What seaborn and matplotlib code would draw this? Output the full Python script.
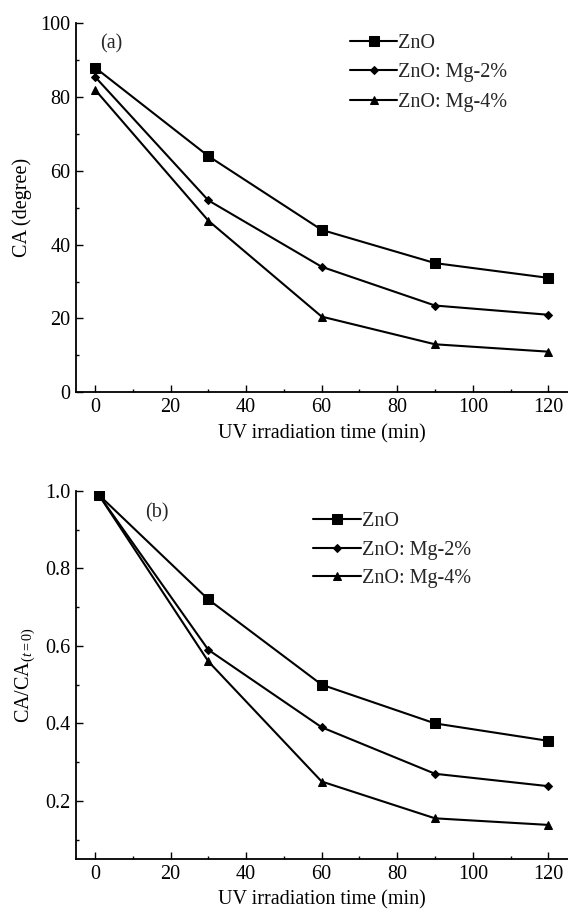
import numpy as np
import pandas as pd
import matplotlib
matplotlib.use("Agg")
import matplotlib.pyplot as plt
import seaborn as sns
from matplotlib.ticker import MultipleLocator

sns.set_theme(style="white")
plt.rcParams['font.family'] = ['Liberation Serif', 'DejaVu Serif']
plt.rcParams['mathtext.fontset'] = 'custom'
plt.rcParams['mathtext.rm'] = 'Liberation Serif'
plt.rcParams['mathtext.it'] = 'Liberation Serif:italic'

series = ["ZnO", "ZnO: Mg-2%", "ZnO: Mg-4%"]
markers = ["s", "D", "^"]
msizes = [6.5, 4.5, 5.5]

time_a = [0, 30, 60, 90, 120]
ca_zno = [88, 64, 44, 35, 31]
ca_mg2 = [85.5, 52, 34, 23.5, 21]
ca_mg4 = [82, 46.5, 20.5, 13, 11]

time_b = [1, 30, 60, 90, 120]
r_zno = [0.99, 0.72, 0.50, 0.40, 0.355]
r_mg2 = [0.99, 0.59, 0.39, 0.27, 0.238]
r_mg4 = [0.99, 0.56, 0.25, 0.155, 0.138]

fig = plt.figure(figsize=(5.68, 9.15), dpi=100)
ax1 = fig.add_axes([0.134, 0.5713, 0.866, 0.4033])
ax2 = fig.add_axes([0.134, 0.0612, 0.866, 0.4022])

fs = 14.5

def draw(ax, x, ys):
    for name, y, m, ms in zip(series, ys, markers, msizes):
        df = pd.DataFrame({"t": x, "v": y})
        sns.lineplot(data=df, x="t", y="v", ax=ax, color="black", lw=1.5,
                     marker=m, markersize=ms, markeredgecolor="black",
                     markerfacecolor="black", label=name, legend=False)
    ax.set_xlim(-5.0, 125.2)
    ax.xaxis.set_major_locator(MultipleLocator(20))
    ax.xaxis.set_minor_locator(MultipleLocator(10))
    for s in ["top", "right"]:
        ax.spines[s].set_visible(False)
    for s in ["left", "bottom"]:
        ax.spines[s].set_color("black")
        ax.spines[s].set_linewidth(1.3)
    ax.tick_params(which="major", direction="in", length=5, width=1, colors="black",
                   labelsize=fs, left=True, bottom=True, pad=4)
    ax.tick_params(which="minor", direction="in", length=2.5, width=1, colors="black",
                   left=True, bottom=True)
    ax.set_xlabel("UV irradiation time (min)", fontsize=fs, color="black", labelpad=5)

def leg(ax, x, y, sp):
    ax.legend(loc="upper left", bbox_to_anchor=(x, y), frameon=False, fontsize=fs,
              handlelength=2.35, handletextpad=0.05, labelspacing=sp,
              borderaxespad=0, borderpad=0)

draw(ax1, time_a, [ca_zno, ca_mg2, ca_mg4])
ax1.set_ylim(0, 100)
ax1.yaxis.set_major_locator(MultipleLocator(20))
ax1.yaxis.set_minor_locator(MultipleLocator(10))
ax1.set_ylabel("CA (degree)", fontsize=fs, color="black", labelpad=6)
ax1.text(0.072, 0.945, "(a)", transform=ax1.transAxes, fontsize=fs, ha="center", va="center")
leg(ax1, 0.557, 0.972, 0.52)

draw(ax2, time_b, [r_zno, r_mg2, r_mg4])
ax2.set_ylim(0.05, 1.0)
ax2.yaxis.set_major_locator(MultipleLocator(0.2))
ax2.yaxis.set_minor_locator(MultipleLocator(0.1))
ax2.set_ylabel(r"CA/CA$_{(t=0)}$", fontsize=fs, color="black", labelpad=6)
ax2.text(0.164, 0.94, "(b)", transform=ax2.transAxes, fontsize=fs, ha="center", va="center")
leg(ax2, 0.482, 0.942, 0.45)

fig.savefig("out.png", dpi=100)
